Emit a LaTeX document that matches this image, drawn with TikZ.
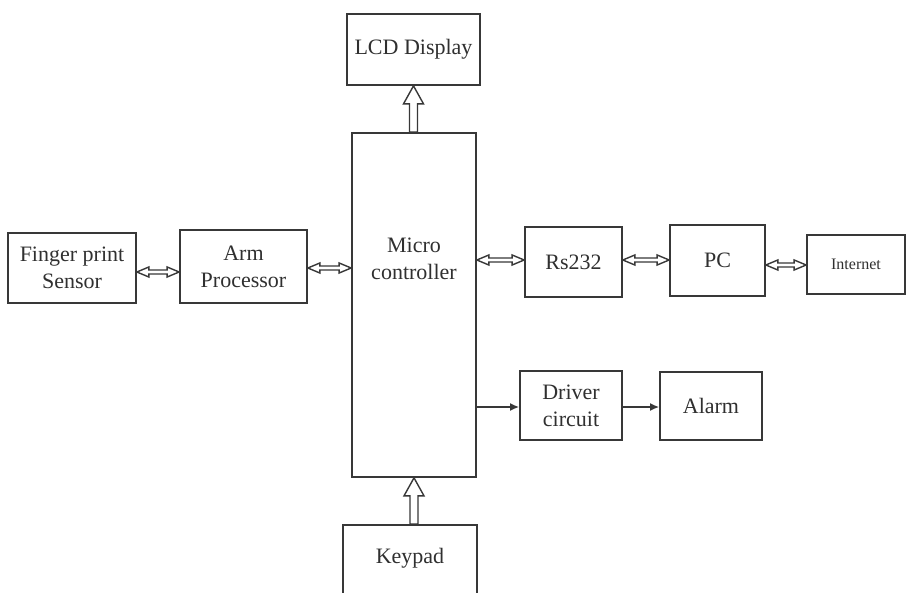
\documentclass[tikz,border=0pt]{standalone}
\usepackage{fontspec}
\setmainfont{Liberation Serif}
\usetikzlibrary{calc,arrows.meta}

\definecolor{ink}{HTML}{383838}
\definecolor{txt}{HTML}{303030}

% horizontal two-way hollow arrow between two points on one line
\newcommand\twowayarrow[2]{%
  \draw[hollow] let \p1=#1, \p2=#2 in
    (\x1,\y1) -- (\x1+12pt,\y1+5pt) -- (\x1+12pt,\y1+2pt)
    -- (\x2-12pt,\y1+2pt) -- (\x2-12pt,\y1+5pt) -- (\x2,\y1)
    -- (\x2-12pt,\y1-5pt) -- (\x2-12pt,\y1-2pt)
    -- (\x1+12pt,\y1-2pt) -- (\x1+12pt,\y1-5pt) -- cycle;}

% wide hollow arrow pointing up, from a base point to a tip point
\newcommand\fatuparrow[2]{%
  \draw[hollow] let \p1=#1, \p2=#2 in
    (\x2,\y2) -- (\x2+10pt,\y2-18pt) -- (\x2+4pt,\y2-18pt)
    -- (\x2+4pt,\y1) -- (\x2-4pt,\y1) -- (\x2-4pt,\y2-18pt)
    -- (\x2-10pt,\y2-18pt) -- cycle;}

\tikzset{
  box/.style={draw=ink, line width=1.7pt, inner sep=0pt, align=center,
              font=\fontsize{22}{27}\selectfont, text=txt},
  label/.style={inner sep=0pt, align=center,
              font=\fontsize{22}{27}\selectfont, text=txt},
  hollow/.style={draw=ink, line width=1.4pt, fill=white, line join=miter},
  solidarrow/.style={draw=ink, line width=1.7pt, -{Latex[length=9pt,width=8pt]}},
}

\begin{document}
\begin{tikzpicture}[x=1pt,y=-1pt]
  \clip (0,0) rectangle (908,592);
  \fill[white] (0,0) rectangle (908,592);

  % blocks
  \node[box, minimum width=133pt, minimum height=71pt] (lcd) at (413.5,49.5) {LCD Display};
  \node[box, minimum width=124pt, minimum height=344pt] (micro) at (414,305) {};
  \node[label] (microtxt) at (414,259) {Micro\\controller};
  \node[box, minimum width=134pt, minimum height=90pt] (keypad) at (410,570) {};
  \node[label] (keypadtxt) at (410,558) {Keypad};

  \node[box, minimum width=128pt, minimum height=70pt] (finger) at (72,268) {Finger print\\Sensor};
  \node[box, minimum width=127pt, minimum height=73pt] (arm) at (243.5,266.5) {Arm\\Processor};

  \node[box, minimum width=97pt, minimum height=70pt] (rs) at (573.5,262) {Rs232};
  \node[box, minimum width=95pt, minimum height=71pt] (pc) at (717.5,260.5) {PC};
  \node[box, minimum width=98pt, minimum height=59pt,
        font=\fontsize{16}{20}\selectfont] (net) at (856,264.5) {Internet};

  \node[box, minimum width=102pt, minimum height=69pt] (driver) at (571,405.5) {Driver\\circuit};
  \node[box, minimum width=102pt, minimum height=68pt] (alarm) at (711,406) {Alarm};

  % heights of the two-way links
  \coordinate (yfa) at (0,272);
  \coordinate (yam) at (0,268);
  \coordinate (yrs) at (0,260);
  \coordinate (ypn) at (0,265);
  \coordinate (ydr) at (0,407);

  % two-way data links
  \twowayarrow{(finger.east |- yfa)}{(arm.west |- yfa)}
  \twowayarrow{(arm.east |- yam)}{(micro.west |- yam)}
  \twowayarrow{(micro.east |- yrs)}{(rs.west |- yrs)}
  \twowayarrow{(rs.east |- yrs)}{(pc.west |- yrs)}
  \twowayarrow{(pc.east |- ypn)}{(net.west |- ypn)}

  % display and keypad buses
  \fatuparrow{(lcd.south |- micro.north)}{(lcd.south)}
  \fatuparrow{(micro.south |- keypad.north)}{(micro.south)}

  % alarm path
  \draw[solidarrow] (micro.east |- ydr) -- (driver.west |- ydr);
  \draw[solidarrow] (driver.east |- ydr) -- (alarm.west |- ydr);
\end{tikzpicture}
\end{document}
